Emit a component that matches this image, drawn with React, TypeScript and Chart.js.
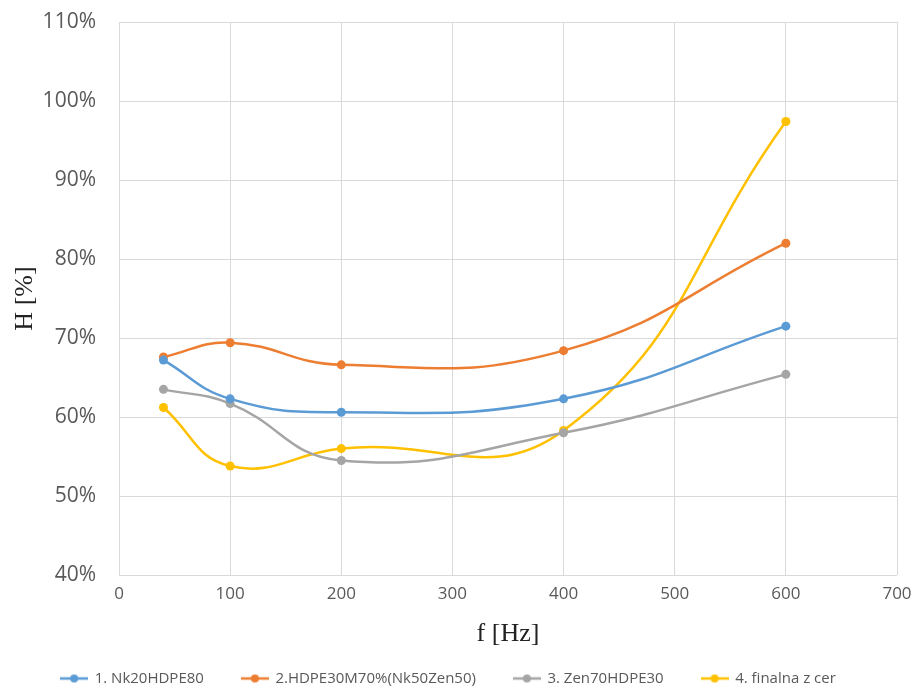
import React, { useEffect, useRef } from "react";
import { Chart, registerables } from "chart.js";

Chart.register(...registerables);

const frequencies = [40, 100, 200, 400, 600];
const seriesNames = [
  "1. Nk20HDPE80",
  "2.HDPE30M70%(Nk50Zen50)",
  "3. Zen70HDPE30",
  "4. finalna z cer",
];
const nk20Values = [67.2, 62.3, 60.6, 62.3, 71.5];
const hdpeMixValues = [67.6, 69.4, 66.6, 68.4, 82.0];
const zen70Values = [63.5, 61.7, 54.5, 58.0, 65.4];
const finalnaValues = [61.2, 53.8, 56.0, 58.3, 97.4];
const seriesColors = ["#5b9bd5", "#ed7d31", "#a5a5a5", "#ffc000"];
const xTickValues = [0, 100, 200, 300, 400, 500, 600, 700];
const yTickValues = [40, 50, 60, 70, 80, 90, 100, 110];
const xTitle = "f [Hz]";
const yTitle = "H [%]";

function makeLegendMarker(color: string): HTMLCanvasElement {
  const c = document.createElement("canvas");
  c.width = 28;
  c.height = 10;
  const g = c.getContext("2d")!;
  g.strokeStyle = color;
  g.lineWidth = 2.5;
  g.beginPath();
  g.moveTo(0, 5);
  g.lineTo(28, 5);
  g.stroke();
  g.fillStyle = color;
  g.beginPath();
  g.arc(14, 5, 4, 0, Math.PI * 2);
  g.fill();
  return c;
}

export default function App() {
  const ref = useRef<HTMLCanvasElement | null>(null);

  useEffect(() => {
    if (!ref.current) return;
    const allValues = [nk20Values, hdpeMixValues, zen70Values, finalnaValues];
    const markers = seriesColors.map(makeLegendMarker);
    const chart = new Chart(ref.current, {
      type: "line",
      data: {
        datasets: allValues.map((vals, i) => ({
          label: seriesNames[i],
          data: frequencies.map((f, j) => ({ x: f, y: vals[j] })),
          borderColor: seriesColors[i],
          backgroundColor: seriesColors[i],
          borderWidth: 2.5,
          pointRadius: 4.5,
          pointBorderWidth: 0,
          pointStyle: "circle",
          tension: 0.45,
          fill: false,
        })),
      },
      options: {
        animation: false,
        responsive: true,
        maintainAspectRatio: false,
        layout: { padding: { top: 22, right: 20, left: 0, bottom: 0 } },
        plugins: {
          tooltip: { enabled: false },
          legend: {
            position: "bottom",
            maxHeight: 55,
            labels: {
              usePointStyle: true,
              pointStyleWidth: 26,
              padding: 38,
              color: "#595959",
              font: { family: "'Open Sans', sans-serif", size: 15 },
              generateLabels: (ch: any) =>
                ch.data.datasets.map((ds: any, i: number) => ({
                  text: ds.label,
                  fillStyle: ds.backgroundColor,
                  strokeStyle: ds.borderColor,
                  lineWidth: 0,
                  pointStyle: markers[i],
                  hidden: !ch.isDatasetVisible(i),
                  datasetIndex: i,
                  fontColor: "#595959",
                })),
            },
          },
        },
        scales: {
          x: {
            type: "linear",
            min: xTickValues[0],
            max: xTickValues[xTickValues.length - 1],
            afterBuildTicks: (scale: any) => {
              scale.ticks = xTickValues.map((v) => ({ value: v }));
            },
            afterFit: (scale: any) => {
              scale.height = 58;
              scale.paddingLeft = 0;
              scale.paddingRight = 0;
            },
            grid: { color: "#d9d9d9", lineWidth: 1, drawTicks: false },
            border: { display: false },
            ticks: {
              color: "#595959",
              padding: 9,
              font: { family: "'Open Sans', sans-serif", size: 17 },
              maxRotation: 0,
            },
            title: {
              display: true,
              text: xTitle,
              color: "#222222",
              font: { family: "'Liberation Serif', serif", size: 26 },
              padding: { top: 0, bottom: -17 },
            },
          },
          y: {
            type: "linear",
            min: yTickValues[0],
            max: yTickValues[yTickValues.length - 1],
            afterBuildTicks: (scale: any) => {
              scale.ticks = yTickValues.map((v) => ({ value: v }));
            },
            afterFit: (scale: any) => {
              scale.width = 119;
              scale.paddingTop = 0;
              scale.paddingBottom = 0;
            },
            grid: { color: "#d9d9d9", lineWidth: 1, drawTicks: false },
            border: { display: false },
            ticks: {
              color: "#595959",
              padding: 23,
              font: { family: "'Open Sans', sans-serif", size: 21 },
              callback: (v: any) => v + "%",
            },
            title: {
              display: true,
              text: yTitle,
              color: "#222222",
              font: { family: "'Liberation Serif', serif", size: 26 },
              padding: { top: 10, bottom: 0 },
            },
          },
        },
      },
    } as any);
    return () => chart.destroy();
  }, []);

  return (
    <div
      style={{
        position: "fixed",
        left: 0,
        top: 0,
        width: 917,
        height: 688,
        background: "#ffffff",
      }}
    >
      <canvas ref={ref} />
    </div>
  );
}
